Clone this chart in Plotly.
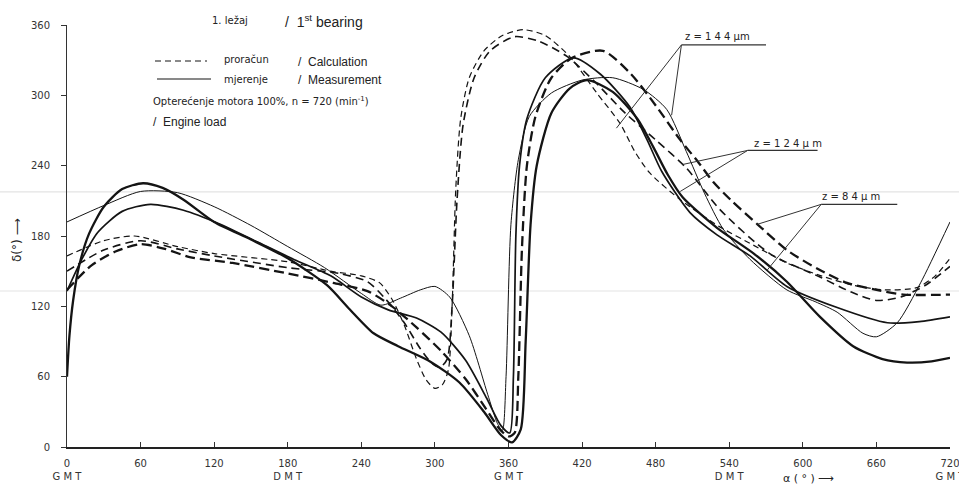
import plotly.graph_objects as go

# ---- data ----
x_ticks = [0, 60, 120, 180, 240, 300, 360, 420, 480, 540, 600, 660, 720]
x_tick_text = ["0<br>G M T", "60", "120", "180<br>D M T", "240", "300", "360<br>G M T",
               "420", "480", "540<br>D M T", "600", "660", "720<br>G M T"]
y_ticks = [0, 60, 120, 180, 240, 300, 360]

# calculation (dashed)
calc_a_x = [0, 30, 55, 90, 120, 180, 215, 240, 255, 265, 275, 285, 293, 300, 306, 311, 314, 317, 321, 328, 340, 355, 372, 390, 410, 432, 451, 463, 475, 500, 532, 560, 587, 615, 641, 668, 693, 708, 720]
calc_a_y = [163, 176, 180, 171, 165, 158, 150, 146, 140, 126, 104, 75, 57, 50, 53, 66, 120, 220, 280, 315, 338, 351, 356, 351, 333, 302, 276, 252, 234, 211, 188, 172, 157, 146, 138, 134, 136, 146, 161]

calc_b_x = [0, 30, 60, 90, 120, 180, 222, 245, 260, 275, 288, 297, 304, 310, 314, 318, 323, 332, 345, 365, 385, 408, 430, 455, 480, 505, 532, 573, 614, 640, 660, 680, 700, 720]
calc_b_y = [150, 168, 176, 169, 163, 153, 148, 141, 126, 106, 84, 72, 68, 75, 120, 210, 275, 315, 338, 350, 346, 333, 312, 285, 262, 238, 203, 165, 145, 132, 125, 128, 138, 154]

calc_c_x = [0, 20, 40, 60, 80, 100, 135, 180, 217, 245, 265, 285, 305, 325, 342, 353, 360, 365, 368, 371, 375, 382, 395, 412, 437, 460, 481, 500, 514, 527, 541, 563, 587, 612, 636, 660, 682, 720]
calc_c_y = [134, 155, 167, 173, 169, 162, 157, 148, 140, 133, 120, 102, 82, 58, 32, 15, 9, 12, 60, 170, 240, 282, 315, 332, 338, 318, 290, 262, 244, 226, 211, 190, 168, 152, 140, 134, 130, 130]

# measurement (solid)
meas_a_x = [0, 30, 60, 90, 120, 150, 180, 210, 240, 256, 272, 288, 300, 312, 328, 343, 351, 355, 358, 362, 368, 377, 395, 420, 445, 470, 489, 505, 520, 535, 557, 587, 610, 628, 649, 660, 677, 696, 720]
meas_a_y = [192, 206, 218, 217, 205, 189, 171, 153, 131, 121, 127, 134, 137, 128, 95, 45, 20, 14, 60, 190, 245, 282, 302, 313, 315, 305, 288, 252, 216, 186, 160, 134, 124, 115, 97, 94, 106, 140, 192]

meas_b_x = [0, 12, 25, 45, 68, 95, 125, 155, 185, 215, 240, 262, 285, 305, 325, 342, 354, 361, 364, 366, 369, 375, 390, 413, 435, 459, 473, 485, 508, 530, 557, 587, 628, 669, 695, 720]
meas_b_y = [133, 160, 183, 201, 207, 202, 190, 175, 160, 146, 128, 117, 110, 98, 74, 42, 18, 12, 60, 180, 240, 280, 315, 332, 318, 290, 262, 235, 200, 181, 163, 137, 119, 106, 107, 111]

meas_c_x = [0, 2, 5, 10, 18, 30, 45, 62, 78, 95, 120, 150, 180, 212, 230, 250, 270, 296, 320, 340, 354, 363, 370, 374, 378, 383, 395, 410, 424, 445, 465, 478, 490, 502, 530, 560, 587, 614, 641, 665, 685, 705, 720]
meas_c_y = [60, 95, 125, 155, 182, 205, 220, 225, 221, 211, 192, 177, 161, 138, 118, 97, 86, 73, 55, 30, 10, 4, 15, 90, 190, 240, 285, 306, 313, 303, 280, 256, 232, 213, 187, 165, 141, 111, 86, 75, 72, 73, 76]

series = [
    (calc_a_x, calc_a_y, 1.2, "6px,4px"),
    (calc_b_x, calc_b_y, 1.6, "8px,5px"),
    (calc_c_x, calc_c_y, 2.3, "10px,5px"),
    (meas_a_x, meas_a_y, 1.0, "solid"),
    (meas_b_x, meas_b_y, 1.7, "solid"),
    (meas_c_x, meas_c_y, 2.3, "solid"),
]

INK = "#141414"
SCAN_FONT = "DejaVu Sans"
EN_FONT = "Liberation Sans"

fig = go.Figure()
for xs, ys, w, d in series:
    fig.add_trace(go.Scatter(x=xs, y=ys, mode="lines",
                             line=dict(color=INK, width=w, dash=d, shape="spline", smoothing=0.7),
                             showlegend=False, hoverinfo="skip"))

# faint scan lines across the page
for yv in [217.6, 133.1]:
    fig.add_shape(type="line", xref="paper", yref="y", x0=-0.076, x1=1.011, y0=yv, y1=yv,
                  line=dict(color="#e3e3e3", width=1.2), layer="below")

# leader lines for the z labels (data units)
leaders = [
    (501, 343, 448, 272), (501, 343, 493, 283),
    (555, 253, 502, 241), (555, 253, 500, 218),
    (615, 207, 563, 190), (615, 207, 571, 151),
]
for x0, y0, x1, y1 in leaders:
    fig.add_shape(type="line", xref="x", yref="y", x0=x0, y0=y0, x1=x1, y1=y1,
                  line=dict(color="#333", width=1))
underlines = [(501, 570, 343), (555, 612, 253), (615, 677, 207)]
for x0, x1, yv in underlines:
    fig.add_shape(type="line", xref="x", yref="y", x0=x0, x1=x1, y0=yv, y1=yv,
                  line=dict(color="#333", width=1.2))

W, H = 959, 486
fig.update_layout(
    width=W, height=H,
    margin=dict(l=67, r=9, t=25, b=39, autoexpand=False),
    paper_bgcolor="white", plot_bgcolor="white",
    xaxis=dict(range=[0, 720], tickvals=x_ticks, ticktext=x_tick_text, ticks="inside",
               ticklen=5, tickcolor="#333", showline=True, linecolor="#222", linewidth=1.5,
               showgrid=False, zeroline=False, tickfont=dict(family=SCAN_FONT, size=10, color="#333"),
               ticklabelstandoff=6, ticklabeloverflow="allow", automargin=False),
    yaxis=dict(range=[0, 360], tickvals=y_ticks, ticktext=[str(v) for v in y_ticks], ticks="outside",
               ticklen=5, tickcolor="#333", showline=True, linecolor="#333", linewidth=1,
               showgrid=False, zeroline=False, tickfont=dict(family=SCAN_FONT, size=10, color="#333"),
               ticklabelstandoff=9, ticklabeloverflow="allow", automargin=False),
)

texts = [
    (210, 21, "1. ležaj", 10, SCAN_FONT),
    (283, 21, "/  1<sup>st</sup> bearing", 14, EN_FONT),
    (222, 59, "proračun", 10, SCAN_FONT),
    (296, 62, "/  Calculation", 12, EN_FONT),
    (222, 79, "mjerenje", 10, SCAN_FONT),
    (296, 80, "/  Measurement", 12, EN_FONT),
    (151, 101, "Opterećenje motora 100%, n = 720 (min<sup>-1</sup>)", 10, SCAN_FONT),
    (151, 122, "/  Engine load", 12, EN_FONT),
    (683, 36, "z = 1 4 4 μm", 10, SCAN_FONT),
    (752, 143, "z = 1 2 4 μ m", 10, SCAN_FONT),
    (820, 196, "z = 8 4 μ m", 10, SCAN_FONT),
    (808, 478, "α ( ° ) ⟶", 11, SCAN_FONT),
]
L, R, T, B = 67, 950, 25, 447
def to_paper_x(xp): return (xp - L) / (R - L)
def to_paper_y(yp): return (B - yp) / (B - T)
ann = []
for xp, yp, txt, size, fnt in texts:
    xa = "center" if txt.startswith("α") else "left"
    ann.append(dict(x=to_paper_x(xp), y=to_paper_y(yp), xref="paper", yref="paper", text=txt,
                    showarrow=False, font=dict(family=fnt, size=size, color="#222"),
                    xanchor=xa, yanchor="middle"))
ann.append(dict(x=to_paper_x(17), y=to_paper_y(240), xref="paper", yref="paper", text="δ(°) ⟶",
                showarrow=False, textangle=-90, font=dict(family=SCAN_FONT, size=12, color="#222"),
                xanchor="center", yanchor="middle"))
fig.update_layout(annotations=ann)

# legend line samples
fig.add_shape(type="line", xref="paper", yref="paper", x0=to_paper_x(155), x1=to_paper_x(207),
              y0=to_paper_y(61), y1=to_paper_y(61), line=dict(color=INK, width=1.2, dash="6px,4px"))
fig.add_shape(type="line", xref="paper", yref="paper", x0=to_paper_x(157), x1=to_paper_x(211),
              y0=to_paper_y(79), y1=to_paper_y(79), line=dict(color=INK, width=1.2))

fig.write_html("out.html")
